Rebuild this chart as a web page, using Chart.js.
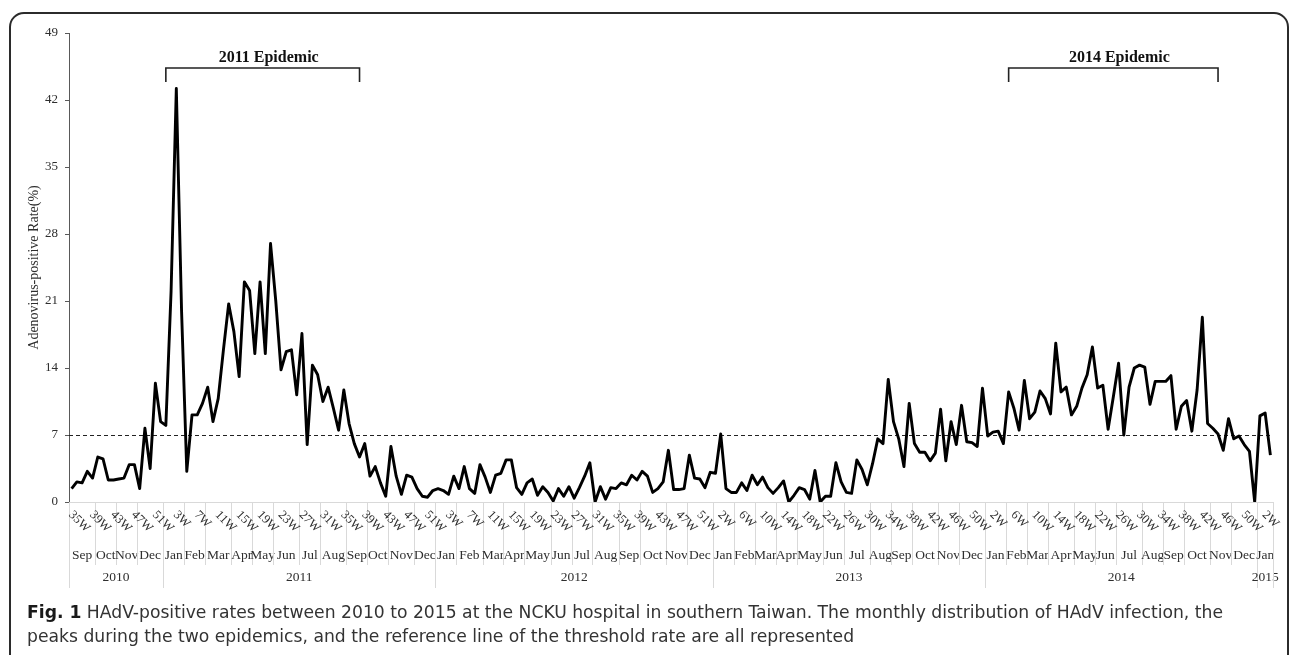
<!DOCTYPE html>
<html>
<head>
<meta charset="utf-8">
<script src="https://cdn.jsdelivr.net/npm/chart.js@4.4.1/dist/chart.umd.min.js"></script>
<style>
html,body{margin:0;padding:0;background:#fff;}
#wrap{width:1290px;height:655px;position:relative;}
</style>
</head>
<body>
<div id="wrap"><canvas id="c"></canvas></div>
<script>
// ---- categories ----
const years = [2010, 2011, 2012, 2013, 2014, 2015];
const firstWeek = [35, 1, 1, 1, 1, 1];
const lastWeek = [52, 52, 53, 52, 52, 3];

// ---- weekly adenovirus-positive rate (%) ----
const rate2010 = [1.4, 2.1, 2.0, 3.2, 2.5, 4.7, 4.5, 2.3, 2.3, 2.4, 2.5, 3.9, 3.9, 1.4, 7.7, 3.5, 12.4, 8.4];
const rate2011 = [8.0, 22.0, 43.2, 20.0, 3.2, 9.1, 9.1, 10.3, 12.0, 8.4, 10.8, 15.9, 20.7, 17.8, 13.1, 23.0, 22.1, 15.5, 23.0, 15.5, 27.0, 21.0, 13.8, 15.7, 15.9, 11.2, 17.6, 6.0, 14.3, 13.3, 10.5, 12.0, 9.8, 7.5, 11.7, 8.2, 6.1, 4.7, 6.1, 2.7, 3.7, 2.0, 0.6, 5.8, 2.7, 0.8, 2.8, 2.6, 1.4, 0.6, 0.5, 1.2];
const rate2012 = [1.4, 1.2, 0.8, 2.7, 1.4, 3.7, 1.4, 0.9, 3.9, 2.6, 1.0, 2.8, 3.0, 4.4, 4.4, 1.5, 0.8, 2.0, 2.4, 0.7, 1.6, 1.0, 0.1, 1.4, 0.6, 1.6, 0.4, 1.5, 2.7, 4.1, 0.0, 1.6, 0.3, 1.5, 1.4, 2.0, 1.8, 2.8, 2.3, 3.2, 2.7, 1.0, 1.4, 2.1, 5.4, 1.3, 1.3, 1.4, 4.9, 2.5, 2.4, 1.5, 3.1];
const rate2013 = [3.0, 7.1, 1.4, 1.0, 1.0, 2.0, 1.2, 2.8, 1.8, 2.6, 1.5, 0.9, 1.5, 2.2, 0.0, 0.7, 1.5, 1.3, 0.3, 3.3, 0.0, 0.6, 0.6, 4.1, 2.1, 1.0, 0.9, 4.4, 3.4, 1.8, 4.0, 6.6, 6.1, 12.8, 8.4, 6.6, 3.7, 10.3, 6.1, 5.2, 5.2, 4.3, 5.1, 9.7, 4.3, 8.4, 6.0, 10.1, 6.3, 6.2, 5.8, 11.9];
const rate2014 = [6.9, 7.3, 7.4, 6.1, 11.5, 9.8, 7.5, 12.7, 8.7, 9.4, 11.6, 10.8, 9.2, 16.6, 11.5, 12.0, 9.1, 10.0, 11.9, 13.3, 16.2, 11.9, 12.2, 7.6, 11.0, 14.5, 7.0, 12.0, 14.0, 14.3, 14.1, 10.2, 12.6, 12.6, 12.6, 13.2, 7.6, 10.0, 10.6, 7.4, 11.7, 19.3, 8.2, 7.7, 7.1, 5.4, 8.7, 6.6, 6.9, 6.0, 5.3, 0.0];
const rate2015 = [9.0, 9.3, 4.9];

// ---- month groups (number of weeks per month label) ----
const monthNames = ['Jan','Feb','Mar','Apr','May','Jun','Jul','Aug','Sep','Oct','Nov','Dec'];
const monthFirst = [8, 0, 0, 0, 0, 0];
const monthWeeks2010 = [5, 4, 4, 5];
const monthWeeks2011 = [4, 4, 5, 4, 4, 5, 4, 5, 4, 4, 5, 4];
const monthWeeks2012 = [4, 5, 4, 4, 5, 4, 4, 5, 4, 5, 4, 5];
const monthWeeks2013 = [4, 4, 4, 4, 5, 4, 5, 4, 4, 5, 4, 5];
const monthWeeks2014 = [4, 4, 4, 5, 4, 4, 5, 4, 4, 5, 4, 5];
const monthWeeks2015 = [3];

// ---- annotations ----
const threshold = 7;
const epidemicLabels = ['2011 Epidemic', '2014 Epidemic'];
const epidemicFrom = [[2011, 1], [2014, 5]];
const epidemicTo = [[2011, 38], [2014, 45]];
const yTicks = [0, 7, 14, 21, 28, 35, 42, 49];
const captionBold = 'Fig. 1';
const captionLine1 = ' HAdV-positive rates between 2010 to 2015 at the NCKU hospital in southern Taiwan. The monthly distribution of HAdV infection, the';
const captionLine2 = 'peaks during the two epidemics, and the reference line of the threshold rate are all represented';

// ---- build category arrays ----
const rates = [].concat(rate2010, rate2011, rate2012, rate2013, rate2014, rate2015);
const monthWeeks = [monthWeeks2010, monthWeeks2011, monthWeeks2012, monthWeeks2013, monthWeeks2014, monthWeeks2015];
const catLabels = [], catYear = [], catWeek = [];
years.forEach((yr, k) => {
  for (let w = firstWeek[k]; w <= lastWeek[k]; w++) {
    catLabels.push(w + 'W'); catYear.push(yr); catWeek.push(w);
  }
});
const idxOf = yw => catYear.findIndex((yy, i) => yy === yw[0] && catWeek[i] === yw[1]);

const SERIF = '"Liberation Serif", "Times New Roman", serif';
const TXT = '#2e2e2e';

const deco = {
  id: 'deco',
  beforeDraw(chart) {
    const ctx = chart.ctx;
    ctx.save();
    ctx.fillStyle = '#fff';
    ctx.fillRect(0, 0, chart.width, chart.height);
    ctx.restore();
  },
  beforeDatasetsDraw(chart) {
    const {ctx, chartArea: a, scales: {y}} = chart;
    ctx.save();
    ctx.strokeStyle = '#d9d9d9'; ctx.lineWidth = 1;
    ctx.beginPath(); ctx.moveTo(a.left, Math.round(a.bottom) + 0.5); ctx.lineTo(a.right, Math.round(a.bottom) + 0.5); ctx.stroke();
    const ty = Math.round(y.getPixelForValue(threshold)) + 0.5;
    ctx.strokeStyle = '#222'; ctx.lineWidth = 1.1; ctx.setLineDash([4, 3]);
    ctx.beginPath(); ctx.moveTo(a.left, ty); ctx.lineTo(a.right, ty); ctx.stroke();
    ctx.restore();
  },
  afterDraw(chart) {
    const {ctx, chartArea: a, scales: {x}} = chart;
    const step = x.getPixelForValue(1) - x.getPixelForValue(0);
    const edge = i => x.getPixelForValue(i) - step / 2;
    const base = a.bottom;
    ctx.save();
    // separators + month/year labels
    ctx.fillStyle = TXT;
    ctx.textAlign = 'center'; ctx.textBaseline = 'middle';
    let idx = 0;
    const vline = (px, y2) => {
      const xx = Math.round(px) + 0.5;
      ctx.beginPath(); ctx.moveTo(xx, base); ctx.lineTo(xx, y2); ctx.stroke();
    };
    ctx.strokeStyle = '#d9d9d9'; ctx.lineWidth = 1;
    years.forEach((yr, k) => {
      const yStart = idx;
      vline(edge(yStart), base + 86);
      monthWeeks[k].forEach((n, m) => {
        const mStart = idx;
        if (m > 0) vline(edge(mStart), base + 63);
        idx += n;
        ctx.font = '13.5px ' + SERIF;
        ctx.fillText(monthNames[monthFirst[k] + m], (edge(mStart) + edge(idx)) / 2, base + 53);
      });
      ctx.font = '13.5px ' + SERIF;
      ctx.fillText(String(yr), (edge(yStart) + edge(idx)) / 2, base + 75);
    });
    vline(edge(idx), base + 86);
    // rotated week labels
    ctx.font = '12.5px ' + SERIF;
    ctx.textAlign = 'left'; ctx.textBaseline = 'middle';
    catLabels.forEach((lab, i) => {
      if (i % 4 !== 0) return;
      ctx.save();
      ctx.translate(x.getPixelForValue(i) - 1, base + 11);
      ctx.rotate(Math.PI / 4);
      ctx.fillText(lab, 0, 0);
      ctx.restore();
    });
    // epidemic brackets
    ctx.strokeStyle = '#222'; ctx.lineWidth = 1.6; ctx.fillStyle = '#111';
    epidemicLabels.forEach((lab, k) => {
      const x1 = x.getPixelForValue(idxOf(epidemicFrom[k]));
      const x2 = x.getPixelForValue(idxOf(epidemicTo[k]));
      ctx.beginPath();
      ctx.moveTo(x1, 82); ctx.lineTo(x1, 68); ctx.lineTo(x2, 68); ctx.lineTo(x2, 82);
      ctx.stroke();
      ctx.font = 'bold 16px ' + SERIF;
      ctx.textAlign = 'center'; ctx.textBaseline = 'alphabetic';
      ctx.fillText(lab, (x1 + x2) / 2 + 6, 62);
    });
    // caption
    const CAP = '"Liberation Sans Narrow", "DejaVu Sans Condensed", "Liberation Sans", sans-serif';
    ctx.textAlign = 'left'; ctx.textBaseline = 'alphabetic';
    ctx.font = 'bold 18px ' + CAP;
    const wb = ctx.measureText(captionBold).width;
    ctx.font = '18px ' + CAP;
    const w1 = ctx.measureText(captionLine1).width;
    const sx = 1196 / (wb + w1);
    ctx.save();
    ctx.translate(27, 618); ctx.scale(sx, 1);
    ctx.fillStyle = '#1a1a1a';
    ctx.font = 'bold 18px ' + CAP;
    ctx.fillText(captionBold, 0, 0);
    ctx.fillStyle = '#333';
    ctx.font = '18px ' + CAP;
    ctx.fillText(captionLine1, wb, 0);
    ctx.fillText(captionLine2, 0, 24);
    ctx.restore();
    // frame
    ctx.strokeStyle = '#2b2b2b'; ctx.lineWidth = 2;
    ctx.beginPath();
    ctx.roundRect(10, 13, 1278, 700, 14);
    ctx.stroke();
    ctx.restore();
  }
};

new Chart(document.getElementById('c'), {
  type: 'line',
  data: {
    labels: catLabels,
    datasets: [{
      data: rates,
      borderColor: '#000',
      borderWidth: 2.9,
      pointRadius: 0,
      tension: 0,
      borderJoinStyle: 'round',
      fill: false
    }]
  },
  options: {
    responsive: true,
    maintainAspectRatio: false,
    animation: false,
    events: [],
    layout: {padding: {left: 10, right: 17, top: 33, bottom: 0}},
    plugins: {legend: {display: false}, tooltip: {enabled: false}},
    scales: {
      x: {
        type: 'category',
        offset: true,
        grid: {display: false},
        border: {display: false},
        ticks: {display: false},
        afterFit: s => { s.height = 153; }
      },
      y: {
        min: 0, max: 49,
        afterBuildTicks: s => { s.ticks = yTicks.map(v => ({value: v})); },
        grid: {display: true, drawOnChartArea: false, drawTicks: true, tickLength: 4, color: '#595959'},
        border: {display: true, color: '#595959', width: 1},
        ticks: {color: TXT, font: {family: SERIF, size: 13}, padding: 7},
        title: {display: true, text: 'Adenovirus-positive Rate(%)', color: TXT, font: {family: SERIF, size: 14}, padding: {top: 16, bottom: 0}},
        afterFit: s => { s.width = 59; }
      }
    }
  },
  plugins: [deco]
});
</script>
</body>
</html>
